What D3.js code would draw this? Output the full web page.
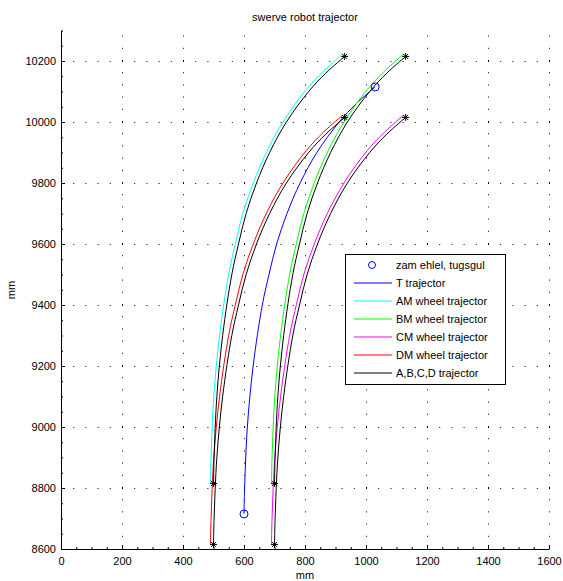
<!DOCTYPE html>
<html>
<head>
<meta charset="utf-8">
<script src="https://cdn.jsdelivr.net/npm/d3@7"></script>
<style>
    body { margin: 0; background: #fff; }
    text { font-family: "Liberation Sans", Arial, sans-serif; font-size: 11px; fill: #000; }
</style>
</head>
<body>
<svg id="chart" width="563" height="581"></svg>
<script>
const xTicks = [0, 200, 400, 600, 800, 1000, 1200, 1400, 1600]
const yTicks = [8600, 8800, 9000, 9200, 9400, 9600, 9800, 10000, 10200]

// robot centre, start and end
const centerPoints = [[600, 8715], [1030, 10115]]

const tTrajectory = [[600, 8715], [602, 8800], [611, 9000], [630, 9200], [660, 9400], [682, 9500], [707, 9600], [741, 9700], [784, 9800], [839, 9900], [912, 10000], [968, 10060], [1030, 10115]]

const amWheel = [[490, 8815], [492, 8900], [501, 9100], [520, 9301], [550, 9502], [572, 9602], [597, 9703], [632, 9804], [675, 9904], [731, 10005], [804, 10106], [861, 10167], [924, 10223]]
const bmWheel = [[690, 8815], [692, 8900], [701, 9100], [720, 9301], [750, 9502], [772, 9602], [797, 9703], [832, 9804], [875, 9904], [931, 10005], [1004, 10106], [1061, 10167], [1124, 10223]]
const cmWheel = [[690, 8615], [692, 8700], [701, 8900], [720, 9101], [750, 9302], [772, 9402], [797, 9503], [832, 9604], [875, 9704], [931, 9805], [1004, 9906], [1061, 9967], [1124, 10023]]
const dmWheel = [[490, 8615], [492, 8700], [501, 8900], [520, 9101], [550, 9302], [572, 9402], [597, 9503], [632, 9604], [675, 9704], [731, 9805], [804, 9906], [861, 9967], [924, 10023]]

const aCorner = [[500, 8815], [502, 8900], [511, 9100], [530, 9300], [560, 9500], [582, 9600], [607, 9700], [641, 9800], [684, 9900], [739, 10000], [812, 10100], [868, 10160], [930, 10215]]
const bCorner = [[700, 8815], [702, 8900], [711, 9100], [730, 9300], [760, 9500], [782, 9600], [807, 9700], [841, 9800], [884, 9900], [939, 10000], [1012, 10100], [1068, 10160], [1130, 10215]]
const cCorner = [[700, 8615], [702, 8700], [711, 8900], [730, 9100], [760, 9300], [782, 9400], [807, 9500], [841, 9600], [884, 9700], [939, 9800], [1012, 9900], [1068, 9960], [1130, 10015]]
const dCorner = [[500, 8615], [502, 8700], [511, 8900], [530, 9100], [560, 9300], [582, 9400], [607, 9500], [641, 9600], [684, 9700], [739, 9800], [812, 9900], [868, 9960], [930, 10015]]

const legendLabels = ["zam ehlel, tugsgul", "T trajector", "AM wheel trajector", "BM wheel trajector", "CM wheel trajector", "DM wheel trajector", "A,B,C,D trajector"]
const legendColors = ["#0000ff", "#0000ff", "#00ffff", "#00ff00", "#ff00ff", "#ff0000", "#000000"]

const svg = d3.select("#chart")

const x = d3.scaleLinear().domain([0, 1600]).range([61, 549])
const y = d3.scaleLinear().domain([8600, 10300]).range([549, 30.5])

// dotted grid
svg.append("g")
    .selectAll("line")
    .data(xTicks.slice(1))
    .join("line")
    .attr("x1", d => x(d) + 0.5)
    .attr("x2", d => x(d) + 0.5)
    .attr("y1", y(8600))
    .attr("y2", y(10300))
    .attr("stroke", "#000")
    .attr("stroke-dasharray", "1,11.2")

svg.append("g")
    .selectAll("line")
    .data(yTicks.slice(1))
    .join("line")
    .attr("x1", x(0))
    .attr("x2", x(1600) + 1)
    .attr("y1", d => y(d) + 0.5)
    .attr("y2", d => y(d) + 0.5)
    .attr("stroke", "#000")
    .attr("stroke-dasharray", "1,11.2")

// axes, ticks inside like matlab
const xAxis = svg.append("g")
    .attr("transform", `translate(0,${y(8600)})`)
    .call(d3.axisBottom(x).tickValues(xTicks).tickFormat(d3.format("d")).tickSizeInner(-4).tickSizeOuter(0).tickPadding(8))
xAxis.append("g")
    .call(d3.axisBottom(x).tickValues(d3.range(0, 1601, 50)).tickSizeInner(-2).tickSizeOuter(0).tickFormat(""))
    .select(".domain").remove()

const yAxis = svg.append("g")
    .attr("transform", `translate(${x(0)},0)`)
    .call(d3.axisLeft(y).tickValues(yTicks).tickFormat(d3.format("d")).tickSizeInner(-4).tickSizeOuter(0).tickPadding(5))
yAxis.append("g")
    .call(d3.axisLeft(y).tickValues(d3.range(8600, 10301, 50)).tickSizeInner(-2).tickSizeOuter(0).tickFormat(""))
    .select(".domain").remove()

svg.selectAll(".tick text")
    .attr("font-family", "Liberation Sans, Arial, sans-serif")
    .attr("font-size", 11)
    .attr("fill", "#000")

// titles
svg.append("text")
    .attr("x", 305)
    .attr("y", 21)
    .attr("text-anchor", "middle")
    .text("swerve robot trajector")

svg.append("text")
    .attr("x", 305)
    .attr("y", 579)
    .attr("text-anchor", "middle")
    .text("mm")

svg.append("text")
    .attr("transform", "translate(15,290) rotate(-90)")
    .attr("text-anchor", "middle")
    .text("mm")

// trajectories
const line = d3.line()
    .x(d => x(d[0]))
    .y(d => y(d[1]))
    .curve(d3.curveCatmullRom.alpha(0.5))

const plots = [
    [tTrajectory, "#0000ff"],
    [amWheel, "#00ffff"],
    [bmWheel, "#00ff00"],
    [cmWheel, "#ff00ff"],
    [dmWheel, "#ff0000"],
    [aCorner, "#000"],
    [bCorner, "#000"],
    [cCorner, "#000"],
    [dCorner, "#000"]
]

svg.append("g")
    .selectAll("path")
    .data(plots)
    .join("path")
    .attr("d", d => line(d[0]))
    .attr("fill", "none")
    .attr("stroke", d => d[1])
    .attr("stroke-width", 1)

svg.append("g")
    .selectAll("circle")
    .data(centerPoints)
    .join("circle")
    .attr("cx", d => x(d[0]))
    .attr("cy", d => y(d[1]))
    .attr("r", 4)
    .attr("fill", "none")
    .attr("stroke", "#0000ff")

// stars on the corner start / end points
const cornerStars = [aCorner, bCorner, cCorner, dCorner].flatMap(c => [c[0], c[c.length - 1]])
const star = "M-3.5,0L3.5,0M0,-3.5L0,3.5M-2.5,-2.5L2.5,2.5M-2.5,2.5L2.5,-2.5"

svg.append("g")
    .selectAll("path")
    .data(cornerStars)
    .join("path")
    .attr("transform", d => `translate(${x(d[0])},${y(d[1])})`)
    .attr("d", star)
    .attr("stroke", "#000")
    .attr("fill", "none")

// legend
const legend = svg.append("g")

legend.append("rect")
    .attr("x", 345.5)
    .attr("y", 254.5)
    .attr("width", 160)
    .attr("height", 130)
    .attr("fill", "#fff")
    .attr("stroke", "#000")

const rows = legend.selectAll("g")
    .data(legendLabels)
    .join("g")
    .attr("transform", (d, i) => `translate(0,${265 + i * 18})`)

rows.each(function (d, i) {
    const row = d3.select(this)
    if (i === 0) {
        row.append("circle")
            .attr("cx", 372)
            .attr("cy", 0)
            .attr("r", 3.5)
            .attr("fill", "none")
            .attr("stroke", legendColors[i])
    } else {
        row.append("line")
            .attr("x1", 354)
            .attr("x2", 392)
            .attr("y1", 0)
            .attr("y2", 0)
            .attr("stroke", legendColors[i])
            .attr("stroke-width", 1.2)
    }
})

rows.append("text")
    .attr("x", 396)
    .attr("dy", "0.35em")
    .text(d => d)
</script>
</body>
</html>
